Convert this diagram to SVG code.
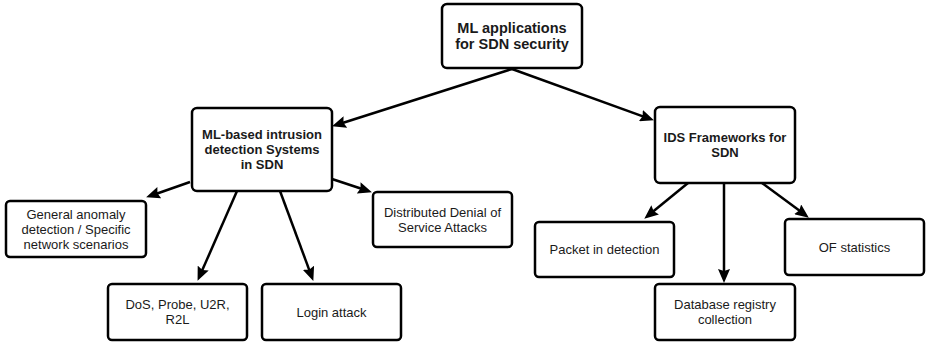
<svg xmlns="http://www.w3.org/2000/svg" width="930" height="344" viewBox="0 0 930 344">
<style>
.box{fill:#fff;stroke:#000;stroke-width:2.5}
.t{font-family:"Liberation Sans",Arial,sans-serif;font-size:13px;text-anchor:middle;fill:#1a1a1a}
.b{font-weight:bold}
.c{stroke:#000;stroke-width:2.5;fill:none;marker-end:url(#ah)}
</style>
<defs>
<marker id="ah" markerUnits="userSpaceOnUse" markerWidth="14" markerHeight="12" refX="3" refY="6" orient="auto" viewBox="0 0 14 12">
<path d="M0,0 L14,6 L0,12 L2,6 z" fill="#000"/>
</marker>
</defs>
<rect width="930" height="344" fill="#fff"/>
<g id="connectors">
<line class="c" x1="512" y1="69" x2="342.5" y2="123"/>
<line class="c" x1="512" y1="69" x2="643.6" y2="116.6"/>
<line class="c" x1="190" y1="182" x2="156.5" y2="193.7"/>
<line class="c" x1="332" y1="179" x2="361.5" y2="188.8"/>
<line class="c" x1="237" y1="191" x2="202" y2="270.8"/>
<line class="c" x1="280" y1="191" x2="309.5" y2="270.6"/>
<line class="c" x1="688" y1="183" x2="652.8" y2="211.7"/>
<line class="c" x1="724" y1="183" x2="724" y2="272"/>
<line class="c" x1="762" y1="183" x2="800" y2="211.1"/>
</g>
<g id="root">
<rect class="box" x="442" y="4" width="140" height="64" rx="5"/>
<text class="t b" x="512" y="33" style="font-size:14.5px">ML applications</text>
<text class="t b" x="512" y="49" style="font-size:14.5px">for SDN security</text>
</g>
<g id="mlids">
<rect class="box" x="192" y="108" width="140" height="83" rx="5"/>
<text class="t b" x="262" y="139">ML-based intrusion</text>
<text class="t b" x="262" y="154">detection Systems</text>
<text class="t b" x="262" y="169">in SDN</text>
</g>
<g id="idsfw">
<rect class="box" x="655" y="107" width="140" height="76" rx="5"/>
<text class="t b" x="725" y="142">IDS Frameworks for</text>
<text class="t b" x="725" y="157">SDN</text>
</g>
<g id="general">
<rect class="box" x="6" y="201" width="140" height="56" rx="4"/>
<text class="t" x="76" y="218.5">General anomaly</text>
<text class="t" x="76" y="233.5">detection / Specific</text>
<text class="t" x="76" y="248.5">network scenarios</text>
</g>
<g id="ddos">
<rect class="box" x="373" y="192" width="139" height="55" rx="4"/>
<text class="t" x="442.5" y="216.5">Distributed Denial of</text>
<text class="t" x="442.5" y="231.5">Service Attacks</text>
</g>
<g id="dos">
<rect class="box" x="108" y="284" width="139" height="56" rx="4"/>
<text class="t" x="177.5" y="309">DoS, Probe, U2R,</text>
<text class="t" x="177.5" y="324">R2L</text>
</g>
<g id="login">
<rect class="box" x="262" y="284" width="139" height="56" rx="4"/>
<text class="t" x="331.5" y="316.5">Login attack</text>
</g>
<g id="packet">
<rect class="box" x="535" y="222" width="139" height="55" rx="4"/>
<text class="t" x="604.5" y="254">Packet in detection</text>
</g>
<g id="database">
<rect class="box" x="655" y="284" width="140" height="56" rx="4"/>
<text class="t" x="725" y="309">Database registry</text>
<text class="t" x="725" y="324">collection</text>
</g>
<g id="ofstats">
<rect class="box" x="785" y="219" width="139" height="56" rx="4"/>
<text class="t" x="854.5" y="251.5">OF statistics</text>
</g>
</svg>
